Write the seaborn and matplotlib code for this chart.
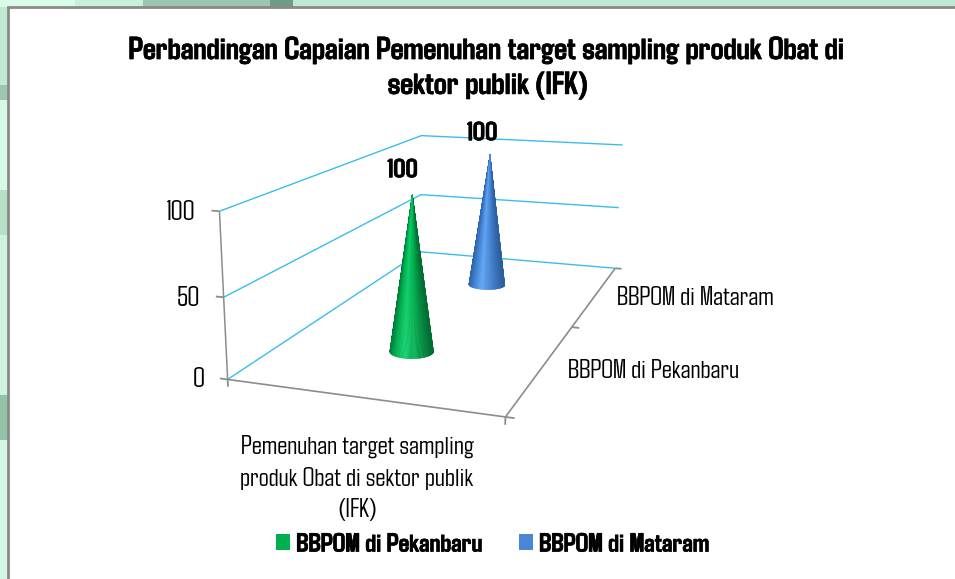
import numpy as np
import pandas as pd
import matplotlib
matplotlib.use('Agg')
import matplotlib.pyplot as plt
import matplotlib.patheffects as pe
from matplotlib.patches import Patch, Rectangle
import seaborn as sns

title_text = 'Perbandingan Capaian Pemenuhan target sampling produk Obat di\nsektor publik (IFK)'
category_label = 'Pemenuhan target sampling\nproduk Obat di sektor publik\n(IFK)'
series_names = ['BBPOM di Pekanbaru', 'BBPOM di Mataram']
series_values = [100, 100]
z_ticks = [0, 50, 100]

WIDTH, HEIGHT = 955, 579
GRID = '#38bdee'
AXIS = '#8c8c8c'
SHADES = [['#006f33', '#00a94c', '#0fd06b'], ['#2c5f9f', '#3f7fce', '#60a5f5']]
LEGEND_COLORS = ['#00b050', '#4a86d6']

# the slide background showing round the chart panel, in pixels
left_bands = [(0, 85, '#bfe9d2'), (85, 100, '#9cc6af'), (100, 190, '#d6f8e6'), (190, 235, '#b4e0c8'),
              (235, 395, '#cdf3de'), (395, 440, '#94c4a8'), (440, 579, '#d5f5e4')]
top_bands = [(0, 75, '#d9fbe9'), (75, 143, '#c8f0da'), (143, 270, '#9cc6af'), (270, 293, '#6f9c86'),
             (293, 955, '#bfe9d2')]

# floor, wall and top corners of the box: (x, y, z) -> pixel in the picture
box_points = [
    (0, 0, 0, 228, 380), (1, 0, 0, 505, 417), (1, 2, 0, 615, 268), (0, 2, 0, 421, 252),
    (0, 0, 100, 220, 211), (0, 2, 100, 421, 136), (1, 2, 100, 623, 145),
    (0, 0, 50, 223, 297), (0, 2, 50, 421, 194), (1, 2, 50, 619, 208), (1, 1, 0, 572, 327),
]


def fit_camera(points):
    """Direct linear fit of a 3x4 camera from box corners."""
    rows = []
    for x, y, z, u, v in points:
        p = [x, y, z / 100, 1]
        u, v = u / 1000, v / 1000
        rows.append(p + [0, 0, 0, 0] + [-u * c for c in p])
        rows.append([0, 0, 0, 0] + p + [-v * c for c in p])
    cam = np.linalg.svd(np.array(rows))[2][-1].reshape(3, 4)
    cam[:, 2] /= 100
    cam[:2] *= 1000
    if cam[2] @ np.array([0.5, 1, 0, 1]) < 0:
        cam = -cam
    return cam


def draw_cone(ax, x0, y0, value, shades, radius=0.082):
    # front half only, the back of the cone is never seen
    theta = np.linspace(np.pi - 0.3, 2 * np.pi + 0.3, 90)
    s = np.array([0.0, 1.0])
    tt, ss = np.meshgrid(theta, s)
    xx = x0 + radius * (1 - ss) * np.cos(tt)
    yy = y0 + radius * (1 - ss) * np.sin(tt)
    zz = value * ss
    ramp = np.array(sns.blend_palette(shades, 64))
    idx = ((1 - np.abs(np.cos(tt))) * 63).astype(int)
    ax.plot_surface(xx, yy, zz, facecolors=ramp[idx], rstride=1, cstride=1, shade=False,
                    linewidth=0.3, antialiased=True, zorder=5, clip_on=False)


sns.set_theme(style='white')
plt.rcParams['font.family'] = ['Agdasima', 'Liberation Sans', 'DejaVu Sans']
plt.rcParams['text.color'] = 'black'
heavy = [pe.withStroke(linewidth=0.4, foreground='black')]

fig = plt.figure(figsize=(WIDTH / 100, HEIGHT / 100), dpi=100, facecolor='#bfe9d2')
for start, stop, color in left_bands:
    fig.patches.append(Rectangle((0, 1 - stop / HEIGHT), 8 / WIDTH, (stop - start) / HEIGHT,
                                 transform=fig.transFigure, facecolor=color, edgecolor='none', zorder=-2))
for start, stop, color in top_bands:
    fig.patches.append(Rectangle((start / WIDTH, 1 - 7 / HEIGHT), (stop - start) / WIDTH, 7 / HEIGHT,
                                 transform=fig.transFigure, facecolor=color, edgecolor='none', zorder=-2))
fig.patches.append(Rectangle((8 / WIDTH, -0.02), 1.02, 1.02 - 7 / HEIGHT, transform=fig.transFigure,
                             facecolor='white', edgecolor='#8a8a8a', linewidth=2, zorder=-1))

ax = fig.add_axes([0, 0, 1, 1], projection='3d', computed_zorder=False)
ax.set_axis_off()
ax.patch.set_visible(False)
ax.set_autoscale_on(False)

# swap mplot3d's own projection for the fitted one
cam = fit_camera(box_points)
flip = np.array([[1, 0, 0], [0, -1, HEIGHT], [0, 0, 1]], dtype=float)
near = min(cam[2] @ np.array([x, y, z, 1]) for x, y, z, _, _ in box_points)


def fitted_proj():
    to_2d = ax.transData.inverted().get_matrix() @ flip @ cam
    return np.vstack([to_2d[0], to_2d[1], [0, 0, 0, -0.5 * near], to_2d[2]])


ax.get_proj = fitted_proj

df = pd.DataFrame({'series': series_names, 'value': series_values, 'y': [0.5, 1.5]})


def line3(xs, ys, zs, color, lw, z=2):
    ax.plot(xs, ys, zs, color=color, lw=lw, zorder=z, clip_on=False, solid_capstyle='butt')


for tick in z_ticks:
    line3([0, 0, 1], [0, 2, 2], [tick, tick, tick], GRID, 1.0)
    line3([-0.03, 0], [0, 0], [tick, tick], AXIS, 1.3, z=3)
    ax.text(-0.092, 0, tick - 2.6, str(tick), ha='right', va='center', fontsize=20, zorder=6)

line3([0, 0], [0, 0], [0, 100], AXIS, 1.1, z=3)
line3([0, 1, 1], [0, 0, 2], [0, 0, 0], AXIS, 1.2, z=3)
for tick_x in [0, 1]:
    line3([tick_x, tick_x], [0, 0], [0, -4.5], AXIS, 1.3, z=3)
for tick_y in [0, 1, 2]:
    line3([1, 1.03], [tick_y, tick_y], [0, 0], AXIS, 1.3, z=3)

for i, row in df.iterrows():
    draw_cone(ax, 0.5, row['y'], row['value'], SHADES[i])
    ax.text(0.462, row['y'], row['value'] + 7.5, str(row['value']), ha='center', va='bottom',
            fontsize=19, fontweight='bold', zorder=7, path_effects=heavy)
    ax.text(1.095, row['y'], -1, row['series'], ha='left', va='center', fontsize=19, zorder=6)

fig.text(488 / WIDTH, 1 - 68 / HEIGHT, title_text, ha='center', va='center', fontsize=23,
         fontweight='bold', linespacing=1.3, path_effects=heavy)
fig.text(357 / WIDTH, 1 - 478 / HEIGHT, category_label, ha='center', va='center', fontsize=19,
         linespacing=1.45)

handles = [Patch(facecolor=c, edgecolor='none') for c in LEGEND_COLORS]
legend = fig.legend(handles, series_names, ncol=2, frameon=False, loc='center',
                    bbox_to_anchor=(492.5 / WIDTH, 1 - 545 / HEIGHT), prop={'weight': 'bold', 'size': 19},
                    handlelength=0.535, handleheight=0.535, handletextpad=0.23, columnspacing=1.4)
for label in legend.get_texts():
    label.set_path_effects(heavy)

fig.savefig('out.png', dpi=100, facecolor=fig.get_facecolor())
